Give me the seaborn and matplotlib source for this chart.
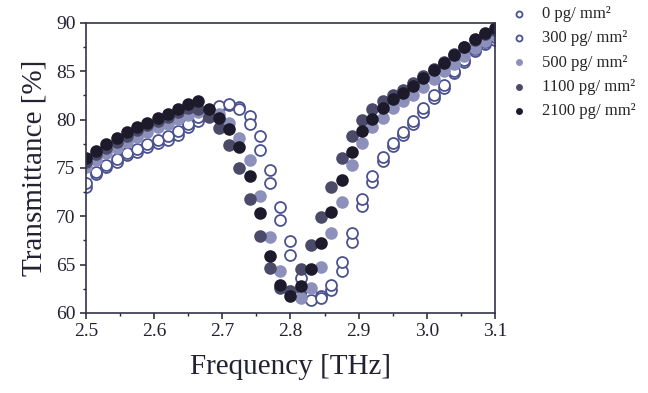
import matplotlib

matplotlib.use("Agg")

import matplotlib.pyplot as plt
import seaborn as sns
from matplotlib.ticker import FormatStrFormatter, MultipleLocator

# frequency grid [THz]
freq = [2.500, 2.515, 2.530, 2.545, 2.560, 2.575, 2.590, 2.605, 2.620, 2.635,
        2.650, 2.665, 2.680, 2.695, 2.710, 2.725, 2.740, 2.755, 2.770, 2.785,
        2.800, 2.815, 2.830, 2.845, 2.860, 2.875, 2.890, 2.905, 2.920, 2.935,
        2.950, 2.965, 2.980, 2.995, 3.010, 3.025, 3.040, 3.055, 3.070, 3.085,
        3.100]

# transmittance [%] per loading
t_0 = [73.0, 74.4, 75.1, 75.6, 76.3, 76.7, 77.2, 77.6, 77.9, 78.4,
       79.2, 79.9, 80.7, 81.2, 81.5, 81.3, 80.4, 78.3, 74.8, 71.0,
       67.4, 63.6, 62.0, 61.8, 62.4, 64.3, 67.3, 71.1, 73.6, 75.7,
       77.3, 78.4, 79.5, 80.8, 82.2, 83.3, 84.8, 86.0, 87.1, 87.8,
       88.2]
t_300 = [73.4, 74.6, 75.3, 75.9, 76.5, 77.0, 77.5, 77.9, 78.3, 78.8,
         79.6, 80.3, 81.0, 81.4, 81.6, 81.1, 79.6, 76.9, 73.4, 69.6,
         66.0, 62.6, 61.3, 61.6, 62.9, 65.3, 68.3, 71.8, 74.2, 76.1,
         77.6, 78.7, 79.9, 81.2, 82.5, 83.6, 85.0, 86.2, 87.3, 88.0,
         88.5]
t_500 = [75.1, 75.8, 76.5, 77.1, 77.7, 78.2, 78.7, 79.2, 79.6, 80.1,
         80.5, 80.8, 80.9, 80.6, 79.7, 78.1, 75.8, 72.1, 67.9, 64.3,
         62.3, 61.6, 62.6, 64.8, 68.3, 71.5, 75.3, 77.6, 79.2, 80.2,
         81.2, 81.9, 82.6, 83.4, 84.2, 85.0, 85.8, 86.6, 87.4, 88.1,
         88.8]
t_1100 = [75.6, 76.4, 77.1, 77.7, 78.3, 78.9, 79.4, 79.9, 80.3, 80.8,
          81.2, 81.1, 80.3, 79.1, 77.4, 75.0, 71.8, 68.0, 64.7, 62.6,
          62.3, 64.6, 67.0, 69.9, 73.0, 76.0, 78.3, 80.0, 81.1, 81.9,
          82.5, 83.1, 83.8, 84.5, 85.2, 86.0, 86.8, 87.5, 88.2, 88.9,
          89.3]
t_2100 = [76.0, 76.8, 77.5, 78.1, 78.7, 79.2, 79.7, 80.2, 80.6, 81.1,
          81.6, 81.9, 81.1, 80.2, 79.0, 77.2, 74.2, 70.3, 65.9, 62.9,
          61.8, 62.8, 64.6, 67.2, 70.4, 73.8, 76.7, 78.8, 80.1, 81.2,
          82.1, 82.8, 83.5, 84.3, 85.1, 85.9, 86.7, 87.5, 88.3, 89.0,
          89.5]

labels = ["0 pg/ mm²", "300 pg/ mm²", "500 pg/ mm²", "1100 pg/ mm²", "2100 pg/ mm²"]
series = [t_0, t_300, t_500, t_1100, t_2100]
faces = ["white", "white", "#8d90bb", "#4b4a68", "#1d1a2c"]
edges = ["#4c5290", "#4c5290", "#8d90bb", "#4b4a68", "#1d1a2c"]
widths = [1.3, 1.3, 0, 0, 0]

sns.set_style("ticks")
plt.rcParams["font.family"] = ["Liberation Serif", "DejaVu Serif"]

fig = plt.figure(figsize=(6.48, 3.93), dpi=100)
ax = fig.add_axes([0.1327, 0.2036, 0.6312, 0.7379])

for vals, label, face, edge, lw in zip(series, labels, faces, edges, widths):
    sns.scatterplot(x=freq, y=vals, ax=ax, s=82 if lw == 0 else 62, color=face,
                    edgecolor=edge, linewidth=lw, label=label)

ax.set_xlim(2.5, 3.1)
ax.set_ylim(60, 90)
ax.xaxis.set_major_locator(MultipleLocator(0.1))
ax.xaxis.set_minor_locator(MultipleLocator(0.05))
ax.xaxis.set_major_formatter(FormatStrFormatter("%.1f"))
ax.yaxis.set_major_locator(MultipleLocator(5))
ax.yaxis.set_minor_locator(MultipleLocator(2.5))

ax.set_xlabel("Frequency [THz]", fontsize=21, color="#222233", labelpad=10)
ax.set_ylabel("Transmittance [%]", fontsize=21, color="#222233", labelpad=6)
ax.tick_params(which="major", direction="out", length=4, width=1.1, labelsize=14,
               colors="#222233")
ax.tick_params(which="minor", direction="out", length=2.5, width=1.0, colors="#222233")
for spine in ax.spines.values():
    spine.set_visible(True)
    spine.set_color("#33334d")
    spine.set_linewidth(1.2)

ax.legend(loc="upper left", bbox_to_anchor=(0.788, 0.985), bbox_transform=fig.transFigure,
          frameon=False, fontsize=12, markerscale=0.55, handlelength=1.0,
          handletextpad=0.9, labelspacing=0.5, borderpad=0, borderaxespad=0)

fig.savefig("out.png", dpi=100)
plt.close(fig)
